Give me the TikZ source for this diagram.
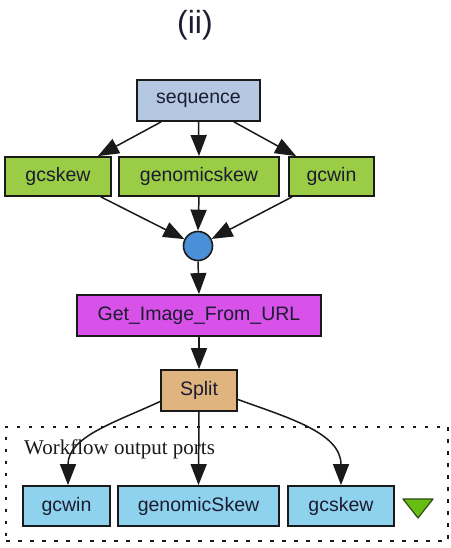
\documentclass[tikz,border=0pt]{standalone}
\usepackage{fontspec}
\setmainfont{Liberation Serif}
\setsansfont{Liberation Sans}
\usetikzlibrary{arrows.meta}
\definecolor{seqfill}{HTML}{B4C8E2}
\definecolor{procfill}{HTML}{9ACC45}
\definecolor{imgfill}{HTML}{D852EA}
\definecolor{splitfill}{HTML}{E0B47E}
\definecolor{portfill}{HTML}{8FD2EE}
\definecolor{mergefill}{HTML}{4A90D8}
\definecolor{tripfill}{HTML}{66BE12}
\definecolor{edgeclr}{HTML}{1A1A1A}
\definecolor{txtclr}{HTML}{1C1C30}
\begin{document}
\begin{tikzpicture}[x=1pt,y=1pt,
  box/.style={draw=edgeclr, line width=1.8pt, rectangle, inner sep=0pt,
    minimum height=40pt, font=\sffamily\fontsize{19.5}{22}\selectfont,
    text=txtclr},
  link/.style={draw=edgeclr, line width=1.5pt,
    -{Triangle[length=21pt,width=16pt]}},
]
\useasboundingbox (0,0) rectangle (450,548);
\fill[white] (0,0) rectangle (450,548);

% heading
\node[font=\sffamily\fontsize{32}{36}\selectfont, text=txtclr] (title) at (195,523) {(ii)};

% output port group
\node[draw=edgeclr, line width=1.6pt, dash pattern=on 3.5pt off 8.5pt,
  minimum width=442pt, minimum height=114pt, inner sep=0pt] (group) at (227,64) {};
\node[anchor=base west, font=\fontsize{21}{24}\selectfont, text=edgeclr,
  inner sep=0pt] (grouplabel) at (24,93) {Workflow output ports};

% processors
\node[box, fill=seqfill, minimum width=123pt, minimum height=41pt] (seq) at (198.5,447.5) {sequence};
\node[box, fill=procfill, minimum width=106pt, minimum height=39pt] (gcskew) at (58,371.5) {gcskew};
\node[box, fill=procfill, minimum width=160pt, minimum height=39pt] (genskew) at (199,371.5) {genomicskew};
\node[box, fill=procfill, minimum width=85pt, minimum height=39pt] (gcwin) at (331.5,371.5) {gcwin};
\node[circle, draw=edgeclr, line width=1.6pt, fill=mergefill,
  minimum size=29pt, inner sep=0pt] (merge) at (198,302) {};
\node[box, fill=imgfill, minimum width=244pt, minimum height=41pt] (img) at (199,232.5) {Get\_Image\_From\_URL};
\node[box, fill=splitfill, minimum width=76pt, minimum height=41pt] (split) at (199,157.5) {Split};

% output ports
\node[box, fill=portfill, minimum width=87pt] (outwin) at (66.5,42) {gcwin};
\node[box, fill=portfill, minimum width=161pt] (outgen) at (198.5,42) {genomicSkew};
\node[box, fill=portfill, minimum width=106pt] (outskew) at (341,42) {gcskew};
\coordinate (tria) at (403,49);
\coordinate (trib) at (433,49);
\coordinate (tric) at (418,30);
\fill[tripfill, draw=edgeclr!70!tripfill, line width=1.2pt, line join=round]
  (tria) -- (trib) -- (tric) -- cycle;

% data links
\draw[link] ([xshift=25pt]seq.south west) -- ([xshift=-14pt]gcskew.north east);
\draw[link] (seq.south) -- (genskew.north);
\draw[link] ([xshift=-27pt]seq.south east) -- ([xshift=8pt]gcwin.north west);
\draw[link] ([xshift=-11pt]gcskew.south east) -- (merge);
\draw[link] (genskew.south) -- (merge.north);
\draw[link] ([xshift=4pt]gcwin.south west) -- (merge);
\draw[link] (merge.south) -- (img.north);
\draw[link] (img.south) -- (split.north);
\draw[link] ([yshift=-11pt]split.west) to[out=205, in=90] ([xshift=1.5pt]outwin.north);
\draw[link] (split.south) -- (outgen.north);
\draw[link] ([yshift=-9pt]split.east) to[out=-20, in=90] (outskew.north);
\end{tikzpicture}
\end{document}
